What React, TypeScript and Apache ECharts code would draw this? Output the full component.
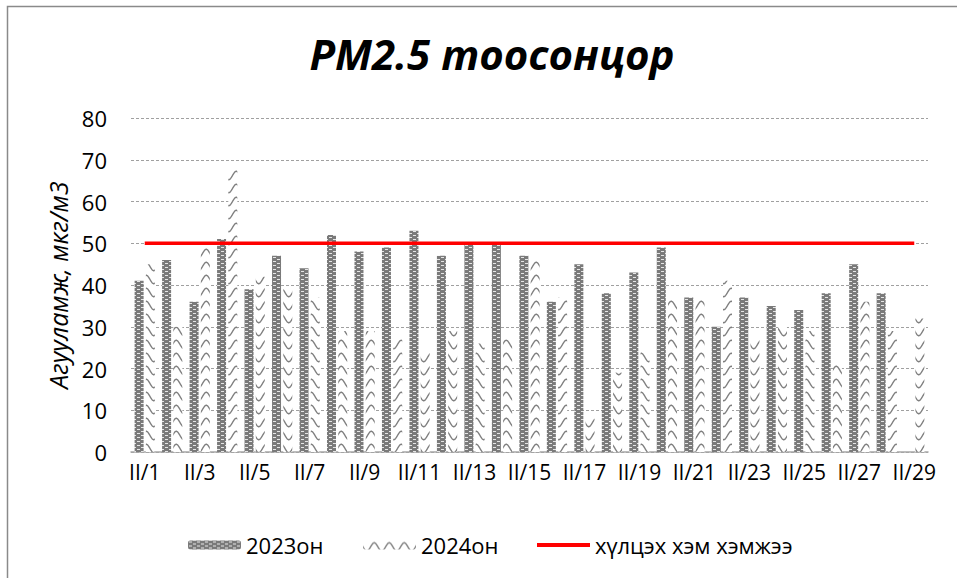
import React, { useEffect, useRef } from "react";
import * as echarts from "echarts";

const categories = [
  "II/1", "II/2", "II/3", "II/4", "II/5", "II/6", "II/7", "II/8", "II/9", "II/10",
  "II/11", "II/12", "II/13", "II/14", "II/15", "II/16", "II/17", "II/18", "II/19", "II/20",
  "II/21", "II/22", "II/23", "II/24", "II/25", "II/26", "II/27", "II/28", "II/29",
];
const values2023 = [41, 46, 36, 51, 39, 47, 44, 52, 48, 49, 53, 47, 50, 50, 47, 36, 45, 38, 43, 49, 37, 30, 37, 35, 34, 38, 45, 38, null];
const values2024 = [45, 30, 49, 68, 42, 39, 37, 29, 29, 27, 24, 29, 26, 27, 46, 37, 8, 19, 24, 37, 37, 41, 27, 30, 29, 21, 36, 29, 32];
const limitValues = [50, 50, 50, 50, 50, 50, 50, 50, 50, 50, 50, 50, 50, 50, 50, 50, 50, 50, 50, 50, 50, 50, 50, 50, 50, 50, 50, 50, 50];
const yTicks = { min: 0, max: 80, interval: 10 };

const FONT = "'Open Sans', 'Noto Sans', sans-serif";

function makePattern2023() {
  const c = document.createElement("canvas");
  c.width = 8;
  c.height = 4;
  const ctx = c.getContext("2d")!;
  ctx.fillStyle = "#7a7a7a";
  ctx.fillRect(0, 0, 8, 4);
  ctx.fillStyle = "#e6e6e6";
  ctx.fillRect(1, 1, 3, 1);
  ctx.fillRect(5, 3, 3, 1);
  return { image: c, repeat: "repeat", imageWidth: 8, imageHeight: 4 };
}

function makePattern2024() {
  const w = 15;
  const h = 13;
  const c = document.createElement("canvas");
  c.width = w;
  c.height = h;
  const ctx = c.getContext("2d")!;
  ctx.fillStyle = "#ffffff";
  ctx.fillRect(0, 0, w, h);
  ctx.strokeStyle = "#7f7f7f";
  ctx.lineWidth = 1.4;
  ctx.beginPath();
  for (let x = -1; x <= w + 1; x += 0.5) {
    const y = h / 2 + 4.2 * Math.sin((2 * Math.PI * x) / w);
    if (x === -1) ctx.moveTo(x, y);
    else ctx.lineTo(x, y);
  }
  ctx.stroke();
  return { image: c, repeat: "repeat", imageWidth: w, imageHeight: h };
}

export default function App() {
  const ref = useRef<HTMLDivElement>(null);

  useEffect(() => {
    if (!ref.current) return;
    const chart = echarts.init(ref.current, null, { renderer: "svg" });
    const p2023 = makePattern2023();
    const p2024 = makePattern2024();

    const legendText = { fontSize: 22, fontFamily: FONT, color: "#000" };

    chart.setOption({
      animation: false,
      backgroundColor: "#ffffff",
      title: {
        text: "PM2.5 тоосонцор",
        left: 487,
        top: 27,
        textAlign: "center",
        textStyle: {
          fontSize: 42,
          fontWeight: "bold",
          fontStyle: "italic",
          fontFamily: FONT,
          color: "#000",
        },
      },
      graphic: [
        {
          type: "rect",
          silent: true,
          shape: { x: 7.5, y: 6.5, width: 1000, height: 1000 },
          style: { fill: "none", stroke: "#8a8a8a", lineWidth: 1.5 },
        },
      ],
      legend: [
        {
          data: ["2023он"],
          left: 183,
          top: 529,
          itemWidth: 53,
          itemHeight: 9,
          textStyle: legendText,
        },
        {
          data: ["2024он"],
          left: 358,
          top: 529,
          itemWidth: 53,
          itemHeight: 9,
          textStyle: legendText,
        },
        {
          data: [{ name: "хүлцэх хэм хэмжээ", icon: "rect" }],
          left: 532,
          top: 529,
          itemWidth: 53,
          itemHeight: 4,
          textStyle: legendText,
        },
      ],
      grid: { left: 131, right: 29, top: 118, bottom: 126, containLabel: false },
      xAxis: {
        type: "category",
        data: categories,
        boundaryGap: true,
        axisTick: { show: false },
        axisLine: { show: true, lineStyle: { color: "#a6a6a6", width: 1.5 } },
        axisLabel: {
          interval: 1,
          margin: 9,
          fontSize: 21,
          fontFamily: FONT,
          color: "#000",
        },
        splitLine: { show: false },
      },
      yAxis: {
        type: "value",
        min: yTicks.min,
        max: yTicks.max,
        interval: yTicks.interval,
        name: "Агууламж, мкг/м3",
        nameLocation: "middle",
        nameGap: 57,
        nameTextStyle: {
          fontSize: 25,
          fontStyle: "italic",
          fontFamily: FONT,
          color: "#000",
        },
        axisLine: { show: false },
        axisTick: { show: false },
        axisLabel: { margin: 24, fontSize: 22, fontFamily: FONT, color: "#000" },
        splitLine: { show: true, lineStyle: { color: "#a0a0a0", type: [3, 2], width: 1 } },
      },
      series: [
        {
          name: "2023он",
          type: "bar",
          data: values2023,
          barWidth: 9,
          barGap: "25%",
          itemStyle: { color: p2023 },
        },
        {
          name: "2024он",
          type: "bar",
          data: values2024,
          barWidth: 9,
          itemStyle: { color: p2024 },
        },
        {
          name: "хүлцэх хэм хэмжээ",
          type: "line",
          data: limitValues,
          symbol: "none",
          lineStyle: { color: "#ff0000", width: 3.5 },
          itemStyle: { color: "#ff0000" },
          z: 5,
        },
      ],
    });

    return () => chart.dispose();
  }, []);

  return (
    <div
      ref={ref}
      style={{ position: "fixed", left: 0, top: 0, width: 957, height: 578 }}
    />
  );
}
